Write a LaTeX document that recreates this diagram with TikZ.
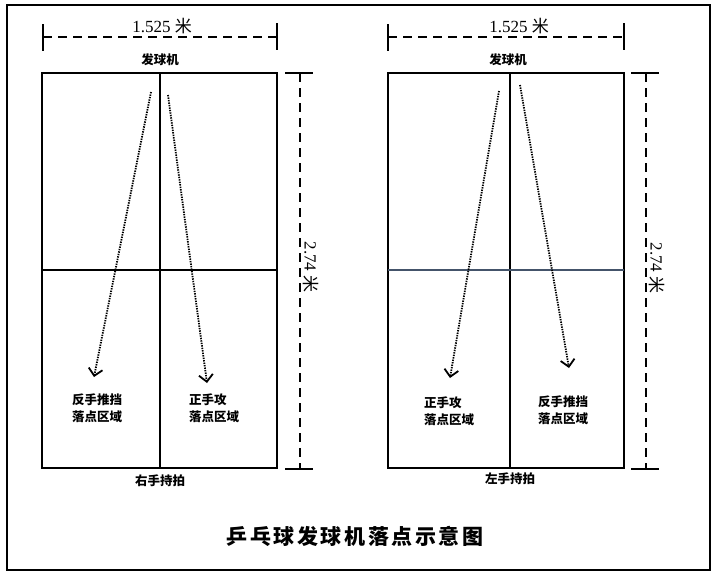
\documentclass[tikz,border=0pt]{standalone}
\usepackage{fontspec}
\setmainfont{Liberation Serif}
\newfontfamily\cjk{Noto Sans CJK SC}
\newfontfamily\cjktitle{Noto Sans CJK SC}[LetterSpace=12]
\usepackage{tikz}
\usetikzlibrary{arrows.meta, positioning}

\begin{document}
\begin{tikzpicture}[x=1pt, y=-1pt,
    frame/.style={line width=1.7pt},
    court/.style={line width=1.4pt},
    dimline/.style={line width=1.4pt, dash pattern=on 9pt off 6pt},
    tickline/.style={line width=1.4pt},
    ball/.style={line width=1.8pt, dash pattern=on 1.4pt off 1.1pt,
        -{Straight Barb[length=7pt, width=14pt, line width=1.8pt]}},
    dimtext/.style={font=\fontsize{17}{17}\selectfont, inner sep=0pt},
    lbl/.style={font=\cjk\bfseries\fontsize{12.5}{17}\selectfont, inner sep=0pt},
    zone/.style={lbl, align=left, anchor=west}]
    \useasboundingbox (0,0) rectangle (718,576);

    % Outer frame
    \draw[frame] (7,5) rectangle (710,570);

    % Left court: right-handed player
    \draw[court] (42,73) rectangle (277,468);
    \draw[court] (160,73) -- (160,468);
    \draw[court] (42,270) -- (277,270);

    % Width 1.525 m
    \coordinate (lw1) at (43,37);
    \coordinate (lw2) at (277,37);
    \draw[dimline] (lw1) -- (lw2);
    \draw[tickline] (lw1) ++(0,-13) -- ++(0,27);
    \draw[tickline] (lw2) ++(0,-14) -- ++(0,27);
    \node[dimtext] (lwtext) at (162,26) {1.525 {\cjk 米}};

    % Length 2.74 m
    \coordinate (lh1) at (300,73);
    \coordinate (lh2) at (300,469);
    \draw[dimline] (lh1) -- (lh2);
    \draw[tickline] (lh1) ++(-15,0) -- ++(28,0);
    \draw[tickline] (lh2) ++(-15,0) -- ++(28,0);
    \node[dimtext, rotate=-90] (lhtext) at (311,267) {2.74 {\cjk 米}};

    % Labels
    \node[lbl] (lserve) at (160,60) {发球机};
    \node[lbl] (lhand) at (160,481) {右手持拍};
    \node[zone] (lback) at (72,408) {反手推挡\\落点区域};
    \node[zone] (lfore) at (189,408) {正手攻\\落点区域};

    % Ball paths
    \coordinate (la1) at (151,92);
    \coordinate (la2) at (94,377);
    \coordinate (lb1) at (168,95);
    \coordinate (lb2) at (207,383);
    \draw[ball] (la1) -- (la2);
    \draw[ball] (lb1) -- (lb2);

    % Right court: left-handed player
    \draw[court] (388,73) rectangle (624,468);
    \draw[court] (510,73) -- (510,468);
    \draw[court, draw={rgb,255:red,68;green,84;blue,106}] (388,270) -- (624,270);

    % Width 1.525 m
    \coordinate (rw1) at (388,37);
    \coordinate (rw2) at (624,37);
    \draw[dimline] (rw1) -- (rw2);
    \draw[tickline] (rw1) ++(0,-13) -- ++(0,27);
    \draw[tickline] (rw2) ++(0,-14) -- ++(0,27);
    \node[dimtext] (rwtext) at (519,26) {1.525 {\cjk 米}};

    % Length 2.74 m
    \coordinate (rh1) at (646,73);
    \coordinate (rh2) at (646,469);
    \draw[dimline] (rh1) -- (rh2);
    \draw[tickline] (rh1) ++(-15,0) -- ++(28,0);
    \draw[tickline] (rh2) ++(-15,0) -- ++(28,0);
    \node[dimtext, rotate=-90] (rhtext) at (657,268) {2.74 {\cjk 米}};

    % Labels
    \node[lbl] (rserve) at (508,60) {发球机};
    \node[lbl] (rhand) at (510,479) {左手持拍};
    \node[zone] (rfore) at (424,411) {正手攻\\落点区域};
    \node[zone] (rback) at (538,410) {反手推挡\\落点区域};

    % Ball paths
    \coordinate (ra1) at (499,91);
    \coordinate (ra2) at (450,378);
    \coordinate (rb1) at (520,85);
    \coordinate (rb2) at (569,368);
    \draw[ball] (ra1) -- (ra2);
    \draw[ball] (rb1) -- (rb2);

    % Title
    \node[font=\cjktitle\bfseries\fontsize{21}{21}\selectfont, inner sep=0pt] (title) at (355,536) {乒乓球发球机落点示意图};
\end{tikzpicture}
\end{document}
